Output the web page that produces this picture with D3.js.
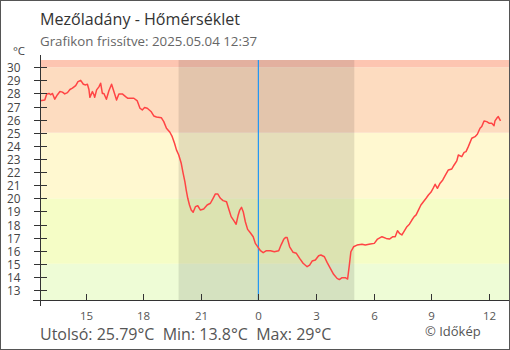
<!DOCTYPE html>
<html><head><meta charset="utf-8">
<script src="https://cdn.jsdelivr.net/npm/d3@7"></script>
<style>
html,body{margin:0;padding:0;background:#fff;}
svg{display:block;font-family:"Open Sans",sans-serif;}
text{white-space:pre;}
</style></head>
<body><svg id="c" width="510" height="350"></svg>
<script>
// ---- data (hours since 2025-05-03 00:00, temperature °C) ----
const obsHours = [12.62,12.87,12.97,13.09,13.18,13.27,13.39,13.53,13.66,13.79,13.91,14.05,14.18,14.31,14.48,14.60,14.74,14.88,15.00,15.09,15.17,15.22,15.35,15.43,15.47,15.57,15.69,15.78,15.87,15.95,16.08,16.21,16.35,16.47,16.61,16.73,16.91,17.08,17.20,17.51,17.69,17.83,17.95,18.07,18.21,18.42,18.55,18.69,18.94,19.07,19.21,19.39,19.51,19.63,19.73,19.85,19.98,20.08,20.17,20.24,20.32,20.41,20.50,20.60,20.72,20.84,20.98,21.15,21.33,21.50,21.64,21.76,21.88,22.02,22.16,22.34,22.46,22.58,22.72,22.84,22.95,23.03,23.12,23.21,23.32,23.44,23.58,23.73,23.84,23.96,24.11,24.25,24.42,24.63,24.83,25.06,25.18,25.32,25.41,25.50,25.63,25.81,25.98,26.15,26.33,26.54,26.67,26.80,26.97,27.14,27.26,27.44,27.58,27.75,27.92,28.10,28.22,28.36,28.53,28.65,28.74,28.82,28.96,29.14,29.40,29.57,29.83,30.04,30.21,30.44,30.66,30.83,31.01,31.13,31.25,31.35,31.48,31.60,31.74,31.87,32.00,32.12,32.22,32.34,32.47,32.60,32.74,32.86,32.99,33.09,33.21,33.33,33.47,33.61,33.73,33.90,34.08,34.20,34.34,34.42,34.60,34.72,34.82,34.94,35.12,35.29,35.41,35.55,35.64,35.76,35.90,36.04,36.16,36.28,36.33,36.42,36.50,36.62];
const obsTemps = [27.45,27.5,27.96,28.0,27.9,28.0,27.56,27.9,28.14,28.1,27.96,28.06,28.3,28.4,28.6,28.9,29.0,28.7,28.65,28.7,28.3,27.7,28.14,27.9,27.7,28.27,28.5,28.78,28.0,28.0,27.56,28.2,28.7,28.14,27.5,27.96,27.96,27.76,27.63,27.63,27.43,26.87,26.74,26.92,26.87,26.6,26.28,26.2,26.15,25.85,25.34,25.04,24.7,24.2,23.69,23.3,22.67,21.9,21.27,20.63,20.0,19.49,19.1,18.93,19.36,19.43,19.1,19.18,19.49,19.62,20.0,20.33,20.33,20.0,19.82,19.74,19.16,18.6,18.29,18.02,18.73,19.1,19.31,18.98,18.21,17.63,17.37,17.07,16.56,16.31,16.0,15.85,16.0,16.0,15.92,16.0,16.43,16.87,17.0,17.0,16.3,15.88,15.8,15.42,15.04,14.78,14.9,15.21,15.29,15.62,15.67,15.54,15.11,14.65,14.2,13.89,13.8,13.94,13.94,13.84,14.9,15.92,16.3,16.43,16.49,16.43,16.51,16.56,16.89,17.07,16.94,16.89,17.07,17.07,17.53,17.33,17.2,17.5,17.83,18.02,18.34,18.6,18.73,19.1,19.49,19.74,20.0,20.25,20.46,20.71,21.07,20.76,21.15,21.4,21.73,22.16,22.24,22.54,22.85,23.3,23.18,23.5,23.56,23.94,24.58,24.7,24.89,25.34,25.47,25.9,25.85,25.72,25.72,25.54,25.9,26.1,26.23,25.9,25.8,25.79];
const yTicks = [13,14,15,16,17,18,19,20,21,22,23,24,25,26,27,28,29,30];
const xTickHours = [15,18,21,24,27,30,33,36];
const xTickLabels = ["15","18","21","0","3","6","9","12"];
const bandLimits = [-100,15,20,25,30,100];
const bandColors = ["#eefcd6","#f5fdc6","#fff8d0","#fddcc0","#fdc5b1"];
const nightStart = 19.84, nightEnd = 29.0, midnight = 24;
const title = "Mezőladány - Hőmérséklet";
const subtitle = "Grafikon frissítve: 2025.05.04 12:37";
const footer = "Utolsó: 25.79°C  Min: 13.8°C  Max: 29°C";
const credit = "© Időkép";

const base = new Date(2025,4,3,0,0,0);
const toDate = h => new Date(base.getTime() + h*3600000);
const data = obsHours.map((h,i)=>({t:toDate(h), v:obsTemps[i]}));

const svg = d3.select("#c");
const L=40, R=509, T=60, B=300;
const x = d3.scaleTime().domain([toDate(12.62), toDate(37.06)]).range([L,R]);
const y = d3.scaleLinear().domain([12.24,30.55]).range([B,T]);

// bands
const g = svg.append("g");
bandColors.forEach((c,i)=>{
  const lo = Math.max(bandLimits[i], y.domain()[0]);
  const hi = Math.min(bandLimits[i+1], y.domain()[1]);
  g.append("rect").attr("x",L).attr("width",R-L)
   .attr("y",y(hi)).attr("height",y(lo)-y(hi)).attr("fill",c);
});
// night
g.append("rect").attr("x",x(toDate(nightStart))).attr("width",x(toDate(nightEnd))-x(toDate(nightStart)))
 .attr("y",T).attr("height",B-T).attr("fill","rgba(0,0,0,0.1)");
// midnight
g.append("line").attr("x1",x(toDate(midnight))).attr("x2",x(toDate(midnight)))
 .attr("y1",T).attr("y2",B).attr("stroke","#2196f3").attr("stroke-width",1.2);

// line
svg.append("path").datum(data)
 .attr("d", d3.line().x(d=>x(d.t)).y(d=>y(d.v)))
 .attr("fill","none").attr("stroke","#ff4444").attr("stroke-width",1.5).attr("stroke-linejoin","round");

// y axis
const ya = svg.append("g");
ya.append("line").attr("x1",L+0.5).attr("x2",L+0.5).attr("y1",55).attr("y2",306).attr("stroke","#333");
yTicks.forEach(v=>{
  const yy = Math.round(y(v))+0.5;
  ya.append("line").attr("x1",34).attr("x2",47).attr("y1",yy).attr("y2",yy).attr("stroke","#333");
  ya.append("text").attr("x",20.5).attr("y",yy+4.2).attr("text-anchor","end")
    .attr("font-size",11.8).attr("fill","#444").text(v);
});
ya.append("text").attr("x",19).attr("y",55).attr("text-anchor","middle").attr("font-size",11.5).attr("fill","#444").text("°C");

// x axis
const xa = svg.append("g");
xa.append("line").attr("x1",33).attr("x2",R).attr("y1",B+0.5).attr("y2",B+0.5).attr("stroke","#333");
xTickHours.forEach((h,i)=>{
  const xx = Math.round(x(toDate(h)))+0.5;
  xa.append("line").attr("x1",xx).attr("x2",xx).attr("y1",294).attr("y2",B).attr("stroke","#333");
  xa.append("text").attr("x",xx).attr("y",320).attr("text-anchor","middle")
    .attr("font-size",11.5).attr("fill","#555").text(xTickLabels[i]);
});

// texts
svg.append("text").attr("x",40).attr("y",25).attr("font-size",16.1).attr("fill","#333").text(title);
svg.append("text").attr("x",40).attr("y",45.5).attr("font-size",13.3).attr("fill","#666").text(subtitle);
svg.append("text").attr("x",40).attr("y",339.5).attr("font-size",16).attr("fill","#555")
  .attr("xml:space","preserve").text(footer);
svg.append("text").attr("x",425).attr("y",336).attr("font-size",13).attr("fill","#555").text(credit);

// border
svg.append("rect").attr("x",0.5).attr("y",0.5).attr("width",509).attr("height",349)
 .attr("fill","none").attr("stroke","#555");
</script></body></html>
